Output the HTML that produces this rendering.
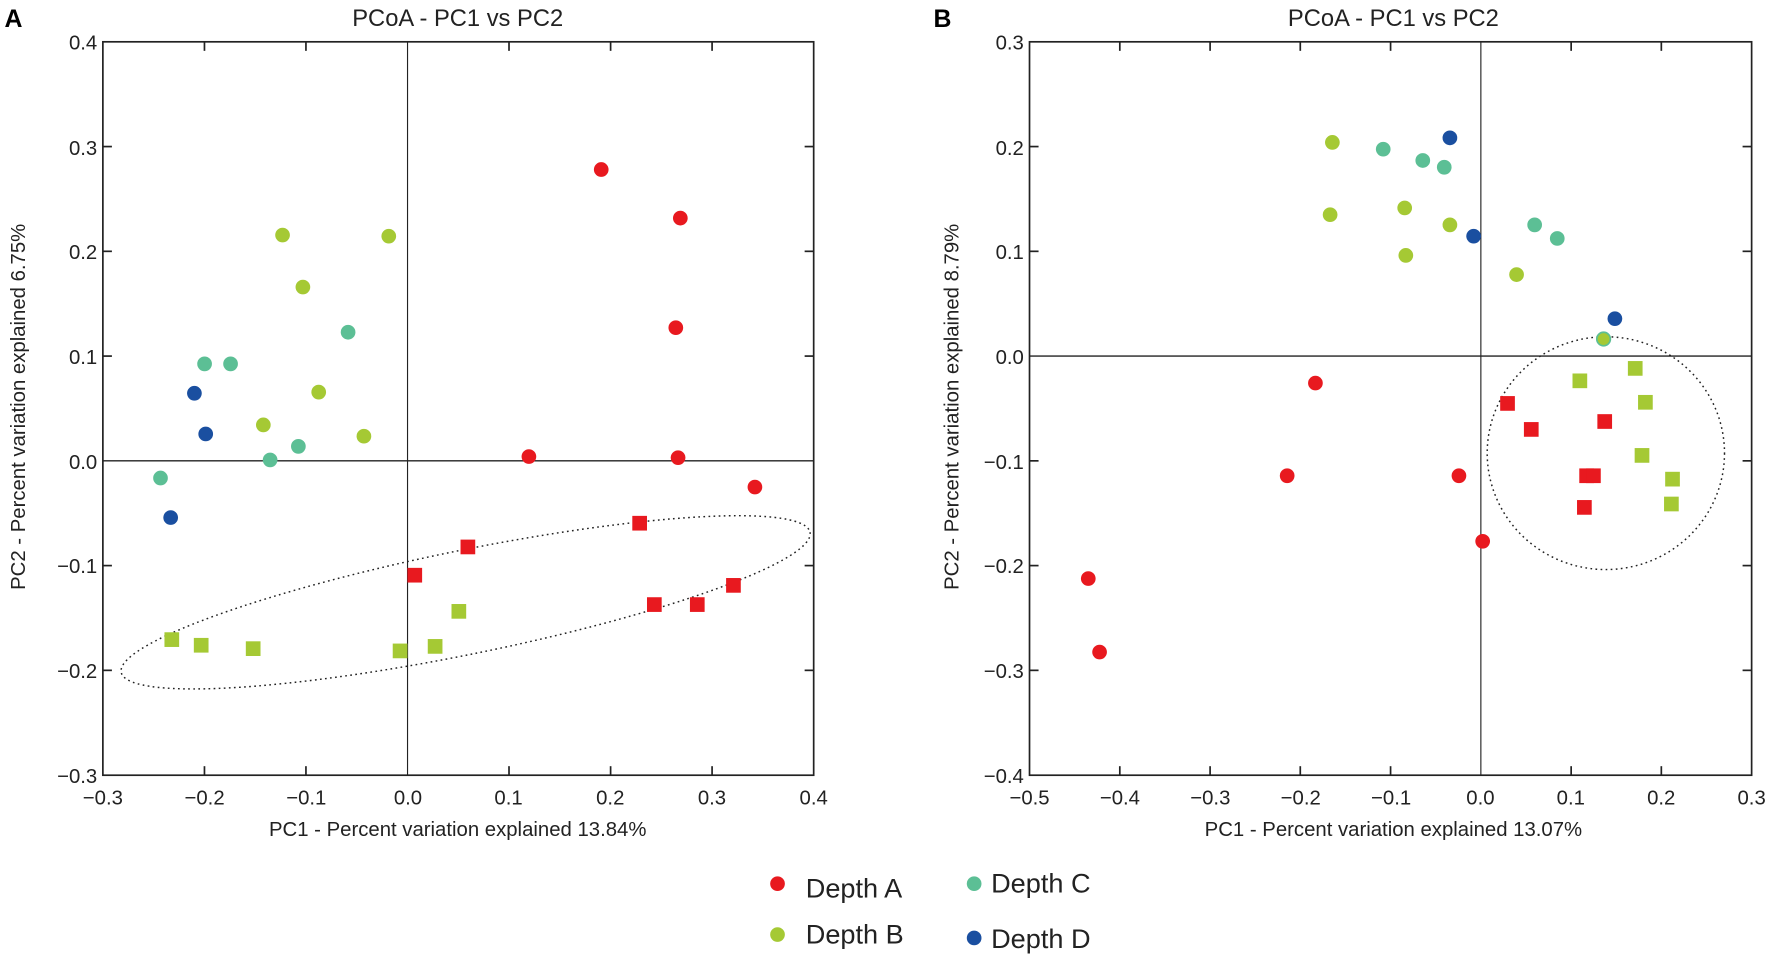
<!DOCTYPE html>
<html><head><meta charset="utf-8"><style>
html,body{margin:0;padding:0;background:#fff;}
svg{display:block;}
text{font-family:"Liberation Sans",sans-serif;fill:#222;}
</style></head><body>
<svg width="1772" height="961" viewBox="0 0 1568 850.4" xmlns="http://www.w3.org/2000/svg">
<defs>
<g id="cr"><circle r="6.5" fill="#e8191f"/></g>
<g id="cg"><circle r="6.5" fill="#a5c934"/></g>
<g id="ct"><circle r="6.5" fill="#5cbf95"/></g>
<g id="cb"><circle r="6.5" fill="#1a4fa0"/></g>
<g id="sr"><rect x="-6.5" y="-6.5" width="13" height="13" fill="#e8191f"/></g>
<g id="sg"><rect x="-6.5" y="-6.5" width="13" height="13" fill="#a5c934"/></g>
</defs>

<!-- Panel A -->
<text x="4" y="24" font-size="22" font-weight="bold" style="fill:#000">A</text>
<text x="405" y="23" font-size="21" text-anchor="middle">PCoA - PC1 vs PC2</text>
<rect x="91" y="37" width="629" height="649" fill="none" stroke="#222" stroke-width="1.5"/>
<line x1="360.6" y1="37" x2="360.6" y2="686" stroke="#222" stroke-width="1"/>
<line x1="91" y1="407.8" x2="720" y2="407.8" stroke="#222" stroke-width="1.2"/>
<g stroke="#222" stroke-width="1.5">
<line x1="180.9" y1="37" x2="180.9" y2="45"/><line x1="270.7" y1="37" x2="270.7" y2="45"/><line x1="450.4" y1="37" x2="450.4" y2="45"/><line x1="540.3" y1="37" x2="540.3" y2="45"/><line x1="630.1" y1="37" x2="630.1" y2="45"/>
<line x1="180.9" y1="686" x2="180.9" y2="678"/><line x1="270.7" y1="686" x2="270.7" y2="678"/><line x1="450.4" y1="686" x2="450.4" y2="678"/><line x1="540.3" y1="686" x2="540.3" y2="678"/><line x1="630.1" y1="686" x2="630.1" y2="678"/>
<line x1="91" y1="129.7" x2="99" y2="129.7"/><line x1="91" y1="222.4" x2="99" y2="222.4"/><line x1="91" y1="315.1" x2="99" y2="315.1"/><line x1="91" y1="500.5" x2="99" y2="500.5"/><line x1="91" y1="593.2" x2="99" y2="593.2"/>
<line x1="720" y1="129.7" x2="712" y2="129.7"/><line x1="720" y1="222.4" x2="712" y2="222.4"/><line x1="720" y1="315.1" x2="712" y2="315.1"/><line x1="720" y1="500.5" x2="712" y2="500.5"/><line x1="720" y1="593.2" x2="712" y2="593.2"/>
</g>
<g font-size="18" text-anchor="end">
<text x="86" y="44">0.4</text><text x="86" y="137">0.3</text><text x="86" y="229">0.2</text><text x="86" y="322">0.1</text><text x="86" y="415">0.0</text><text x="86" y="507">−0.1</text><text x="86" y="600">−0.2</text><text x="86" y="693">−0.3</text>
</g>
<g font-size="18" text-anchor="middle">
<text x="91" y="712">−0.3</text><text x="181" y="712">−0.2</text><text x="271" y="712">−0.1</text><text x="361" y="712">0.0</text><text x="450" y="712">0.1</text><text x="540" y="712">0.2</text><text x="630" y="712">0.3</text><text x="720" y="712">0.4</text>
</g>
<text x="405" y="740" font-size="18" text-anchor="middle">PC1 - Percent variation explained 13.84%</text>
<text transform="translate(22,360) rotate(-90)" font-size="18" text-anchor="middle">PC2 - Percent variation explained 6.75%</text>
<ellipse cx="412" cy="533" rx="311" ry="46" transform="rotate(-11.5 412 533)" fill="none" stroke="#222" stroke-width="1.3" stroke-dasharray="1.5 3"/>
<use href="#cr" x="532" y="150"/><use href="#cr" x="602" y="193"/><use href="#cr" x="598" y="290"/><use href="#cr" x="468" y="404"/><use href="#cr" x="600" y="405"/><use href="#cr" x="668" y="431"/>
<use href="#cg" x="250" y="208"/><use href="#cg" x="344" y="209"/><use href="#cg" x="268" y="254"/><use href="#cg" x="282" y="347"/><use href="#cg" x="233" y="376"/><use href="#cg" x="322" y="386"/>
<use href="#ct" x="308" y="294"/><use href="#ct" x="181" y="322"/><use href="#ct" x="204" y="322"/><use href="#ct" x="264" y="395"/><use href="#ct" x="239" y="407"/><use href="#ct" x="142" y="423"/>
<use href="#cb" x="172" y="348"/><use href="#cb" x="182" y="384"/><use href="#cb" x="151" y="458"/>
<use href="#sr" x="566" y="463"/><use href="#sr" x="414" y="484"/><use href="#sr" x="367" y="509"/><use href="#sr" x="579" y="535"/><use href="#sr" x="617" y="535"/><use href="#sr" x="649" y="518"/>
<use href="#sg" x="152" y="566"/><use href="#sg" x="178" y="571"/><use href="#sg" x="224" y="574"/><use href="#sg" x="354" y="576"/><use href="#sg" x="385" y="572"/><use href="#sg" x="406" y="541"/>

<!-- Panel B -->
<text x="826" y="24" font-size="22" font-weight="bold" style="fill:#000">B</text>
<text x="1233" y="23" font-size="21" text-anchor="middle">PCoA - PC1 vs PC2</text>
<rect x="911" y="37" width="639" height="649" fill="none" stroke="#222" stroke-width="1.5"/>
<line x1="1310.4" y1="37" x2="1310.4" y2="686" stroke="#222" stroke-width="1"/>
<line x1="911" y1="315.1" x2="1550" y2="315.1" stroke="#222" stroke-width="1.2"/>
<g stroke="#222" stroke-width="1.5">
<line x1="990.9" y1="37" x2="990.9" y2="45"/><line x1="1070.8" y1="37" x2="1070.8" y2="45"/><line x1="1150.6" y1="37" x2="1150.6" y2="45"/><line x1="1230.5" y1="37" x2="1230.5" y2="45"/><line x1="1390.3" y1="37" x2="1390.3" y2="45"/><line x1="1470.1" y1="37" x2="1470.1" y2="45"/>
<line x1="990.9" y1="686" x2="990.9" y2="678"/><line x1="1070.8" y1="686" x2="1070.8" y2="678"/><line x1="1150.6" y1="686" x2="1150.6" y2="678"/><line x1="1230.5" y1="686" x2="1230.5" y2="678"/><line x1="1390.3" y1="686" x2="1390.3" y2="678"/><line x1="1470.1" y1="686" x2="1470.1" y2="678"/>
<line x1="911" y1="129.7" x2="919" y2="129.7"/><line x1="911" y1="222.4" x2="919" y2="222.4"/><line x1="911" y1="407.8" x2="919" y2="407.8"/><line x1="911" y1="500.5" x2="919" y2="500.5"/><line x1="911" y1="593.2" x2="919" y2="593.2"/>
<line x1="1550" y1="129.7" x2="1542" y2="129.7"/><line x1="1550" y1="222.4" x2="1542" y2="222.4"/><line x1="1550" y1="407.8" x2="1542" y2="407.8"/><line x1="1550" y1="500.5" x2="1542" y2="500.5"/><line x1="1550" y1="593.2" x2="1542" y2="593.2"/>
</g>
<g font-size="18" text-anchor="end">
<text x="906" y="44">0.3</text><text x="906" y="137">0.2</text><text x="906" y="229">0.1</text><text x="906" y="322">0.0</text><text x="906" y="415">−0.1</text><text x="906" y="507">−0.2</text><text x="906" y="600">−0.3</text><text x="906" y="693">−0.4</text>
</g>
<g font-size="18" text-anchor="middle">
<text x="911" y="712">−0.5</text><text x="991" y="712">−0.4</text><text x="1071" y="712">−0.3</text><text x="1151" y="712">−0.2</text><text x="1231" y="712">−0.1</text><text x="1310" y="712">0.0</text><text x="1390" y="712">0.1</text><text x="1470" y="712">0.2</text><text x="1550" y="712">0.3</text>
</g>
<text x="1233" y="740" font-size="18" text-anchor="middle">PC1 - Percent variation explained 13.07%</text>
<text transform="translate(848,360) rotate(-90)" font-size="18" text-anchor="middle">PC2 - Percent variation explained 8.79%</text>
<ellipse cx="1421" cy="401" rx="105" ry="103" fill="none" stroke="#222" stroke-width="1.3" stroke-dasharray="1.5 3"/>
<use href="#cr" x="1164" y="339"/><use href="#cr" x="1139" y="421"/><use href="#cr" x="1291" y="421"/><use href="#cr" x="1312" y="479"/><use href="#cr" x="963" y="512"/><use href="#cr" x="973" y="577"/>
<use href="#cg" x="1179" y="126"/><use href="#cg" x="1177" y="190"/><use href="#cg" x="1243" y="184"/><use href="#cg" x="1283" y="199"/><use href="#cg" x="1244" y="226"/><use href="#cg" x="1342" y="243"/>
<use href="#ct" x="1224" y="132"/><use href="#ct" x="1259" y="142"/><use href="#ct" x="1278" y="148"/><use href="#ct" x="1358" y="199"/><use href="#ct" x="1378" y="211"/>
<circle cx="1419" cy="300" r="6" fill="#a5c934" stroke="#5cbf95" stroke-width="1.5"/>
<use href="#cb" x="1283" y="122"/><use href="#cb" x="1304" y="209"/><use href="#cb" x="1429" y="282"/>
<use href="#sr" x="1334" y="357"/><use href="#sr" x="1355" y="380"/><use href="#sr" x="1420" y="373"/><use href="#sr" x="1404" y="421"/><use href="#sr" x="1410" y="421"/><use href="#sr" x="1402" y="449"/>
<use href="#sg" x="1398" y="337"/><use href="#sg" x="1447" y="326"/><use href="#sg" x="1456" y="356"/><use href="#sg" x="1453" y="403"/><use href="#sg" x="1480" y="424"/><use href="#sg" x="1479" y="446"/>

<!-- Legend -->
<circle cx="688" cy="782" r="6.5" fill="#e8191f"/>
<text x="713" y="794" font-size="24">Depth A</text>
<circle cx="688" cy="827" r="6.5" fill="#a5c934"/>
<text x="713" y="835" font-size="24">Depth B</text>
<circle cx="862" cy="782" r="6.5" fill="#5cbf95"/>
<text x="877" y="790" font-size="24">Depth C</text>
<circle cx="862" cy="830" r="6.5" fill="#1a4fa0"/>
<text x="877" y="839" font-size="24">Depth D</text>
</svg>
</body></html>
